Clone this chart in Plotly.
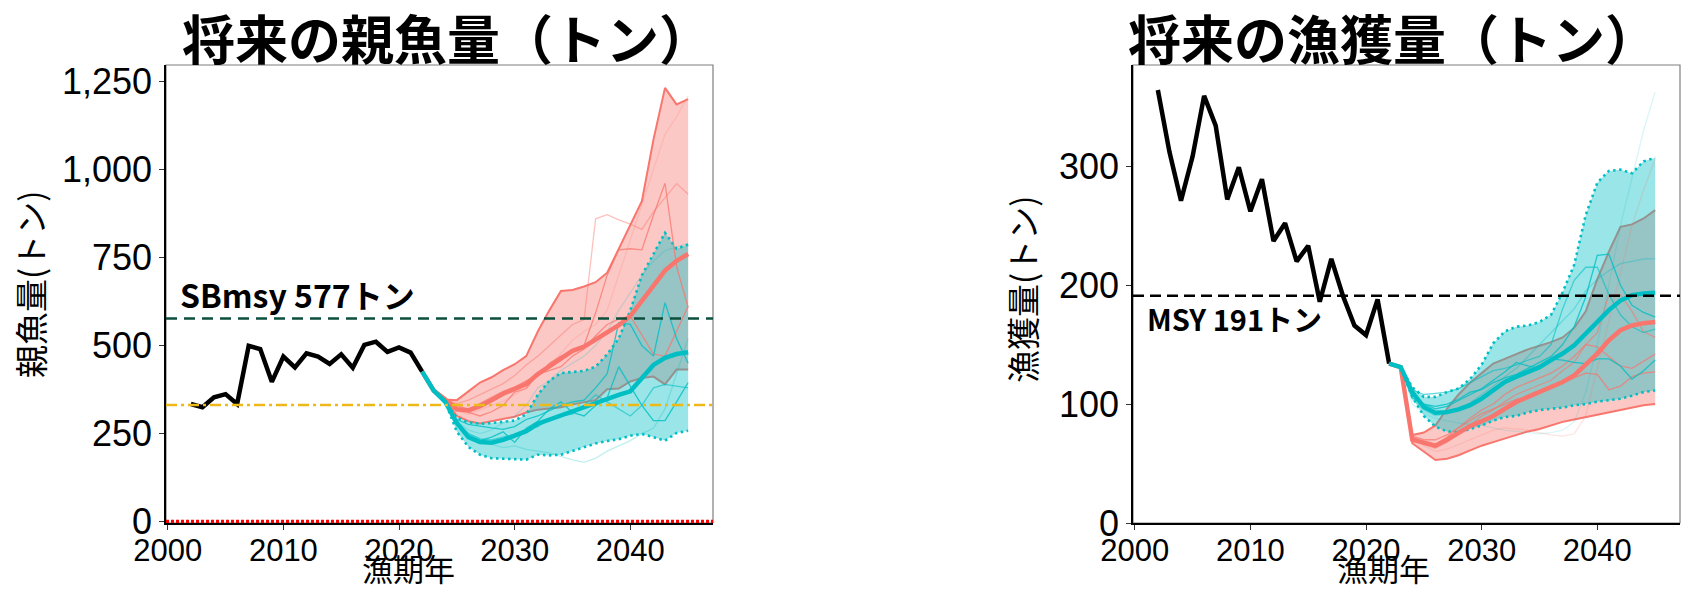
import plotly.graph_objects as go

# ---- data ---------------------------------------------------------------
years_hist = list(range(2002, 2023))
ssb_hist = [334, 325, 353, 362, 334, 499, 490, 397, 469, 438, 478, 469, 448, 475, 437,
            502, 511, 482, 495, 480, 426]
catch_hist = [364, 312, 271, 308, 359, 334, 272, 299, 262, 289, 237, 252, 220, 233, 186,
              222, 191, 166, 158, 188, 134]

years_proj = list(range(2022, 2046))

# spawning biomass projections (median / 90% band) for the two scenarios
ssb_a_med = [426, 372, 347, 319, 316, 328, 345, 363, 377, 391, 419, 442, 465, 485, 497, 518,
             538, 558, 584, 626, 672, 713, 741, 760]
ssb_a_lo = [426, 372, 347, 300, 285, 279, 285, 292, 298, 310, 318, 321, 325, 333, 338, 345,
            376, 378, 398, 408, 412, 390, 432, 432]
ssb_a_hi = [426, 372, 347, 345, 370, 395, 410, 430, 447, 470, 540, 600, 655, 658, 668, 680,
            707, 775, 845, 910, 1085, 1232, 1185, 1200]
ssb_b_med = [426, 372, 340, 280, 240, 226, 224, 232, 244, 257, 278, 290, 303, 314, 324, 336,
             349, 360, 370, 410, 445, 465, 476, 481]
ssb_b_lo = [426, 372, 340, 255, 212, 190, 180, 178, 178, 176, 190, 188, 190, 200, 212, 222,
            229, 234, 244, 249, 240, 230, 252, 258]
ssb_b_hi = [426, 372, 340, 295, 282, 278, 280, 284, 287, 305, 360, 400, 422, 425, 428, 440,
            475, 520, 600, 700, 760, 820, 775, 787]

# catch projections
catch_a_med = [134, 131, 70, 67.5, 65, 70, 76, 81.5, 85.5, 90, 96, 101.7, 106, 110, 114, 118.5,
               124, 132.6, 142.4, 153.6, 162, 166, 168, 169]
catch_a_lo = [134, 131, 67, 60, 53, 54, 57, 61, 65, 68, 71, 74, 77, 79, 82, 85, 87, 89, 91, 93,
              95, 97.5, 99, 100]
catch_a_hi = [134, 131, 74, 76, 82, 96, 108, 118, 126, 134, 138, 142, 146, 149, 152, 156, 164,
              178, 205, 228, 249, 251, 256, 263]
catch_b_med = [134, 131, 110, 97.5, 92.7, 93.2, 95.5, 99, 104.5, 112, 118.5, 123, 127, 131, 137,
               142.5, 149.4, 159, 169, 179, 187, 191.6, 193, 193.5]
catch_b_lo = [134, 131, 106, 90, 81, 77, 76, 79, 82, 86, 89, 90, 93, 95, 96, 97, 99, 100, 102,
              103, 104.5, 107, 110, 111.5]
catch_b_hi = [134, 131, 114, 106, 106, 110, 113, 121, 133, 151, 161, 165, 166, 169, 175, 194, 217,
              259, 286, 296, 297, 294, 304, 307]

# a few individual simulation runs per scenario (value, opacity)
ssb_a_runs = [
    ([426, 372, 347, 330, 318, 335, 352, 370, 382, 400, 412, 450, 470, 482, 500, 593, 700, 772,
      775, 772, 870, 961, 725, 608], 0.75),
    ([426, 372, 347, 335, 345, 360, 375, 392, 415, 445, 470, 500, 530, 560, 574, 860, 872, 857,
      845, 830, 880, 920, 960, 930], 0.45),
    ([426, 372, 347, 315, 305, 318, 330, 342, 360, 380, 418, 440, 478, 515, 540, 560, 600, 700,
      800, 900, 1000, 1100, 1150, 1210], 0.2),
    ([426, 372, 347, 322, 310, 300, 312, 330, 368, 378, 418, 430, 440, 470, 490, 528, 560, 575,
      584, 530, 476, 470, 540, 612], 0.75),
]
ssb_b_runs = [
    ([426, 372, 340, 290, 276, 270, 266, 262, 270, 290, 300, 315, 330, 340, 345, 380, 420, 565,
      560, 500, 470, 622, 520, 450], 0.8),
    ([426, 372, 340, 275, 245, 230, 240, 255, 225, 265, 285, 320, 340, 310, 300, 330, 352, 440,
      385, 330, 287, 287, 340, 395], 0.8),
    ([426, 372, 340, 270, 250, 235, 220, 210, 215, 205, 200, 195, 185, 175, 168, 180, 200, 215,
      230, 250, 265, 320, 420, 520], 0.25),
    ([426, 372, 340, 285, 260, 250, 260, 280, 300, 330, 380, 400, 430, 450, 470, 500, 540, 600,
      650, 700, 740, 770, 780, 790], 0.2),
    ([426, 372, 340, 282, 250, 235, 232, 240, 248, 262, 270, 290, 300, 305, 330, 360, 340, 320,
      300, 330, 380, 390, 385, 380], 0.6),
]
catch_a_runs = [
    ([134, 131, 72, 68, 66, 72, 80, 86, 92, 96, 100, 104, 106, 110, 115, 118, 122, 126, 125, 112,
      115, 123, 126, 127], 0.75),
    ([134, 131, 71, 66, 63, 68, 75, 82, 90, 95, 102, 108, 112, 116, 120, 128, 135, 150, 160, 192,
      192, 178, 161, 156], 0.6),
    ([134, 131, 70, 65, 60, 62, 66, 70, 74, 78, 80, 79, 78, 76, 74, 73, 75, 90, 130, 170, 210,
      250, 280, 306], 0.2),
    ([134, 131, 73, 70, 70, 74, 80, 88, 95, 100, 108, 114, 118, 122, 126, 132, 140, 150, 148, 140,
      132, 130, 136, 142], 0.7),
]
catch_b_runs = [
    ([134, 131, 112, 108, 109, 110, 113, 118, 123, 128, 130, 133, 137, 140, 150, 180, 204, 215,
      215, 192, 175, 165, 160, 163], 0.6),
    ([134, 131, 105, 100, 98, 100, 104, 110, 112, 118, 122, 125, 130, 135, 140, 150, 165, 190,
      225, 226, 200, 183, 177, 173], 0.8),
    ([134, 131, 108, 100, 96, 98, 103, 108, 113, 120, 127, 135, 132, 130, 138, 137, 135, 134,
      138, 138, 132, 121, 128, 137], 0.8),
    ([134, 131, 104, 95, 90, 92, 96, 101, 108, 115, 123, 130, 140, 150, 160, 170, 180, 195, 205,
      212, 218, 220, 222, 222], 0.35),
    ([134, 131, 100, 92, 88, 86, 84, 83, 82, 80, 78, 77, 76, 75, 76, 78, 85, 110, 150, 200, 250,
      290, 330, 362], 0.15),
]

SB_MSY = 577
SB_LIMIT = 331
SB_BAN = 0
MSY = 191

x_ticks = [2000, 2010, 2020, 2030, 2040]
ssb_ticks = [0, 250, 500, 750, 1000, 1250]
catch_ticks = [0, 100, 200, 300]

# ---- styling --------------------------------------------------------------
SALMON = (248, 118, 109)
TEAL = (0, 191, 196)
X_RANGE = [1999.85, 2047.15]
JP = "Noto Sans CJK JP"
LATIN = "Liberation Sans"
Y_DOMAIN = [69 / 592, 527 / 592]


def rgba(c, a):
    return f"rgba({c[0]},{c[1]},{c[2]},{a})"


fig = go.Figure()


def add_line(x, y, color, width, ax, dash=None):
    xa, ya = ax
    fig.add_trace(go.Scatter(x=x, y=y, mode="lines", xaxis=xa, yaxis=ya,
                             line=dict(color=color, width=width, dash=dash),
                             hoverinfo="skip", showlegend=False))


def add_band(lo, hi, col, border_dash, ax):
    xa, ya = ax
    fig.add_trace(go.Scatter(x=years_proj + years_proj[::-1], y=hi + lo[::-1],
                             fill="toself", fillcolor=rgba(col, 0.4), mode="lines",
                             line=dict(width=0), xaxis=xa, yaxis=ya,
                             hoverinfo="skip", showlegend=False))
    width = 2.0 if border_dash is None else 2.6
    add_line(years_proj, hi, rgba(col, 1), width, ax, border_dash)
    add_line(years_proj, lo, rgba(col, 1), width, ax, border_dash)


def panel(ax, hist, a_med, a_lo, a_hi, b_med, b_lo, b_hi, a_runs, b_runs):
    add_band(a_lo, a_hi, SALMON, None, ax)
    add_band(b_lo, b_hi, TEAL, "2.5px,3.5px", ax)
    for vals, op in a_runs:
        add_line(years_proj, vals, rgba(SALMON, op), 1.3, ax)
    for vals, op in b_runs:
        add_line(years_proj, vals, rgba(TEAL, op), 1.3, ax)
    add_line(years_hist, hist, "black", 4.5, ax)
    add_line(years_proj, a_med, rgba(SALMON, 1), 4.5, ax)
    add_line(years_proj, b_med, rgba(TEAL, 1), 4.5, ax)


# left: spawning biomass
panel(("x", "y"), ssb_hist, ssb_a_med, ssb_a_lo, ssb_a_hi, ssb_b_med, ssb_b_lo, ssb_b_hi,
      ssb_a_runs, ssb_b_runs)
add_line(X_RANGE, [SB_MSY, SB_MSY], "#0B4F3C", 2.5, ("x", "y"), "11px,7px")
add_line(X_RANGE, [SB_LIMIT, SB_LIMIT], "#EDB918", 2.5, ("x", "y"), "11px,4px,3px,4px")
add_line(X_RANGE, [SB_BAN, SB_BAN], "#FF0000", 3.5, ("x", "y"), "3px,2px")

# right: catch
panel(("x2", "y2"), catch_hist, catch_a_med, catch_a_lo, catch_a_hi, catch_b_med, catch_b_lo,
      catch_b_hi, catch_a_runs, catch_b_runs)
add_line(X_RANGE, [MSY, MSY], "black", 2.5, ("x2", "y2"), "11px,6px")

axis_common = dict(showgrid=False, zeroline=False, showline=True, linecolor="black",
                   linewidth=1.6, ticks="outside", ticklen=5, tickwidth=1.2,
                   tickcolor="#333333", automargin=False)
x_common = dict(axis_common, range=X_RANGE, tickvals=x_ticks, ticklabelstandoff=-6,
                tickfont=dict(family=LATIN, size=31, color="black"))

fig.update_layout(
    width=1682, height=592,
    margin=dict(l=0, r=0, t=0, b=0),
    paper_bgcolor="white", plot_bgcolor="white",
    showlegend=False,
    xaxis=dict(x_common, domain=[166 / 1682, 713 / 1682], anchor="y"),
    xaxis2=dict(x_common, domain=[1133 / 1682, 1680 / 1682], anchor="y2"),
    yaxis=dict(axis_common, domain=Y_DOMAIN, anchor="x", range=[-4, 1297],
               tickvals=ssb_ticks, tickformat=",d",
               tickfont=dict(family=LATIN, size=36, color="black")),
    yaxis2=dict(axis_common, domain=Y_DOMAIN, anchor="x2", range=[0, 385],
                tickvals=catch_ticks,
                tickfont=dict(family=LATIN, size=36, color="black")),
)

# grey panel borders
for xd, yd in (("x domain", "y domain"), ("x2 domain", "y2 domain")):
    fig.add_shape(type="rect", xref=xd, yref=yd, x0=0, x1=1, y0=0, y1=1,
                  line=dict(color="#7F7F7F", width=1.2), layer="below")

ann = [
    dict(text="<b>将来の親魚量（トン）</b>", x=447 / 1682, y=1 - 37 / 592,
         font=dict(family=JP, size=53, color="black")),
    dict(text="<b>将来の漁獲量（トン）</b>", x=1393 / 1682, y=1 - 37 / 592,
         font=dict(family=JP, size=53, color="black")),
    dict(text="親魚量(トン)", x=30 / 1682, y=1 - 285 / 592, textangle=-90,
         font=dict(family=JP, size=33, color="black")),
    dict(text="漁獲量(トン)", x=1022 / 1682, y=1 - 290 / 592, textangle=-90,
         font=dict(family=JP, size=33, color="black")),
]
for a in ann:
    fig.add_annotation(xref="paper", yref="paper", showarrow=False,
                       xanchor="center", yanchor="middle", **a)

# x-axis titles, sitting on the bottom edge of the figure
for xc in (408 / 1682, 1383 / 1682):
    fig.add_annotation(xref="paper", yref="paper", x=xc, y=0, text="漁期年",
                       showarrow=False, xanchor="center", yanchor="bottom",
                       font=dict(family=JP, size=31, color="black"))

fig.add_annotation(xref="x", yref="y", x=2000.9, y=SB_MSY, text="<b>SBmsy 577トン</b>",
                   showarrow=False, xanchor="left", yanchor="middle", yshift=24,
                   font=dict(family=JP, size=32, color="black"))
fig.add_annotation(xref="x2", yref="y2", x=2000.9, y=MSY, text="<b>MSY 191トン</b>",
                   showarrow=False, xanchor="left", yanchor="middle", yshift=-22,
                   font=dict(family=JP, size=29, color="black"))

fig.write_html("out.html")
